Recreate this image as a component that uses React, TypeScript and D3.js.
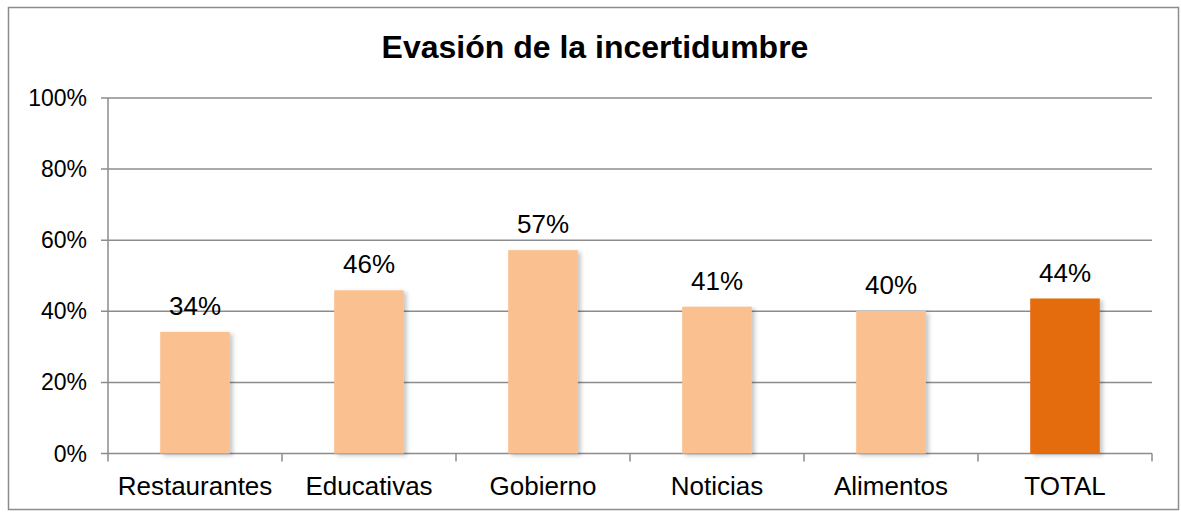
import React from 'react';
import * as d3 from 'd3';

const categories = ['Restaurantes', 'Educativas', 'Gobierno', 'Noticias', 'Alimentos', 'TOTAL'];
const values = [0.342, 0.459, 0.572, 0.413, 0.401, 0.436];
const yTicks = [0, 0.2, 0.4, 0.6, 0.8, 1];
const title = 'Evasión de la incertidumbre';

const W = 1181;
const H = 512;
const plot = { left: 108, right: 1152, top: 98, bottom: 453.5 };

export default function App() {
  const x = d3.scaleBand().domain(categories).range([plot.left, plot.right]).padding(0);
  const y = d3.scaleLinear().domain([0, 1]).range([plot.bottom, plot.top]);
  const pct = d3.format('.0%');
  const barW = x.bandwidth() * 0.4;
  const font = 'Arial, "Liberation Sans", sans-serif';

  return (
    <svg
      width={W}
      height={H}
      style={{ position: 'absolute', left: 0, top: 0, background: '#fff' }}
      fontFamily={font}
    >
      <defs>
        <filter id="shadow" x="-20%" y="-20%" width="140%" height="140%">
          <feDropShadow dx="3" dy="2" stdDeviation="2" floodColor="#000" floodOpacity="0.22" />
        </filter>
      </defs>
      {/* outer frame */}
      <rect x={8.5} y={7.5} width={1170} height={502} fill="#fff" stroke="#8c8c8c" strokeWidth={1.5} />

      <text x={595} y={58} textAnchor="middle" fontSize={32} fontWeight="bold" fill="#000">
        {title}
      </text>

      {/* gridlines + y ticks */}
      {yTicks.map((t) => (
        <g key={t}>
          <line x1={plot.left - 7} x2={plot.right} y1={y(t)} y2={y(t)} stroke="#8c8c8c" strokeWidth={1.5} />
          <text x={87} y={y(t) + 8} textAnchor="end" fontSize={23} fill="#000">
            {pct(t)}
          </text>
        </g>
      ))}

      {/* y axis */}
      <line x1={plot.left} x2={plot.left} y1={plot.top} y2={plot.bottom} stroke="#8c8c8c" strokeWidth={1.5} />

      {/* x ticks */}
      {categories.map((c, i) => (
        <line
          key={c}
          x1={(x(c) as number) + x.bandwidth()}
          x2={(x(c) as number) + x.bandwidth()}
          y1={plot.bottom}
          y2={plot.bottom + 8}
          stroke="#8c8c8c"
          strokeWidth={1.5}
        />
      ))}
      <line x1={plot.left} x2={plot.left} y1={plot.bottom} y2={plot.bottom + 8} stroke="#8c8c8c" strokeWidth={1.5} />

      {/* bars */}
      {categories.map((c, i) => {
        const cx = (x(c) as number) + x.bandwidth() / 2;
        return (
          <g key={c}>
            <rect
              x={cx - barW / 2}
              y={y(values[i])}
              width={barW}
              height={plot.bottom - y(values[i])}
              fill={c === 'TOTAL' ? '#e46c0a' : '#fac090'}
              filter="url(#shadow)"
            />
            <text x={cx} y={y(values[i]) - 17} textAnchor="middle" fontSize={26} fill="#000">
              {pct(values[i])}
            </text>
            <text x={cx} y={495} textAnchor="middle" fontSize={26} fill="#000">
              {c}
            </text>
          </g>
        );
      })}
    </svg>
  );
}
